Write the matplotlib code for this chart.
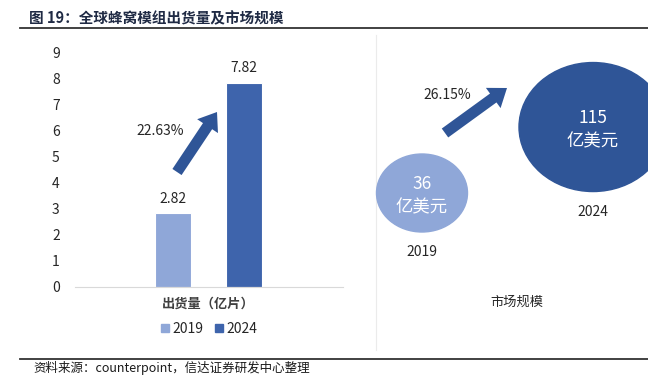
import matplotlib
matplotlib.use("Agg")
import matplotlib.pyplot as plt
from matplotlib.patches import Ellipse, FancyArrow
from matplotlib.lines import Line2D

plt.rcParams["font.family"] = ["Noto Sans CJK SC", "DejaVu Sans"]

# --- Data ---
years = ["2019", "2024"]
shipments = [2.82, 7.82]          # 亿片
shipment_cagr = "22.63%"
market_size = [36, 115]           # 亿美元
market_cagr = "26.15%"
y_ticks = list(range(0, 10))

title = "图 19：全球蜂窝模组出货量及市场规模"
source = "资料来源：counterpoint，信达证券研发中心整理"

light_blue = "#8FA7D8"
mid_blue = "#3E64AC"
dark_blue = "#2F5597"
text_gray = "#404040"

W, H = 648, 379
fig = plt.figure(figsize=(W / 100, H / 100), dpi=100)


def fbox(x0, y0, x1, y1):
    # pixel box (top-left origin) -> figure fraction rect
    return [x0 / W, 1 - y1 / H, (x1 - x0) / W, (y1 - y0) / H]


# --- Left: shipment bars ---
ax1 = fig.add_axes(fbox(75, 52, 343, 287))
bar_x = [0, 1]
ax1.bar(bar_x, shipments, width=0.51, color=[light_blue, mid_blue],
        edgecolor="white", linewidth=0.8)
for bx, v in zip(bar_x, shipments):
    ax1.text(bx, v + 0.3, f"{v:.2f}", ha="center", va="bottom",
             fontsize=10, color="#262626")
ax1.set_ylim(0, 9)
ax1.set_xlim(-1.38, 2.39)
ax1.set_yticks(y_ticks)
ax1.tick_params(axis="y", length=0, pad=11, labelsize=10, labelcolor="#262626")
ax1.set_xticks([0.5])
ax1.set_xticklabels(["出货量（亿片）"], fontsize=9.5, fontweight="bold", color=text_gray)
ax1.tick_params(axis="x", length=0, pad=7)
for s in ["top", "right", "left"]:
    ax1.spines[s].set_visible(False)
ax1.spines["bottom"].set_color("#D9D9D9")

handles = [Line2D([], [], marker="s", linestyle="none", markersize=5.5,
                  color=c, label=y) for c, y in zip([light_blue, mid_blue], years)]
ax1.legend(handles=handles, loc="upper center", bbox_to_anchor=(0.5, -0.095),
           ncol=2, frameon=False, fontsize=10, handlelength=0.6,
           handletextpad=0.25, columnspacing=0.8, labelcolor="#262626")

# --- Right: market size bubbles ---
ax2 = fig.add_axes(fbox(377, 35, 648, 350))
px_x, px_y = 171.0, 0.835        # pixels per data unit
ax2.set_xlim(-45 / px_x, 1 + 55 / px_x)
ax2.set_ylim(market_size[0] - 157 / px_y, market_size[0] + 158 / px_y)
ax2.axis("off")
bubble_px = [(91, 78), (148, 129)]
bubble_col = [light_blue, dark_blue]
for i, (v, y) in enumerate(zip(market_size, years)):
    w, h = bubble_px[i]
    ax2.add_patch(Ellipse((i, v), w / px_x, h / px_y, color=bubble_col[i],
                          clip_on=False))
    ax2.text(i, v + 9 / px_y, str(v), ha="center", va="center",
             color="white", fontsize=12.5)
    ax2.text(i, v - 14 / px_y, "亿美元", ha="center", va="center",
             color="white", fontsize=12.5)
    ax2.text(i, v - (h / 2 + 20) / px_y, y, ha="center", va="center",
             fontsize=10, color="#262626")

# --- Overlay: header, arrows, notes ---
ov = fig.add_axes([0, 0, 1, 1], zorder=-1)
ov.set_xlim(0, W)
ov.set_ylim(H, 0)
ov.axis("off")
ov2 = fig.add_axes([0, 0, 1, 1], zorder=5)
ov2.set_xlim(0, W)
ov2.set_ylim(H, 0)
ov2.axis("off")

ov.text(29, 18, title, fontsize=10.5, fontweight="bold", color="#1F2A44",
        va="center", ha="left")
ov.plot([20, W], [28, 28], color="#333333", lw=1.3)
ov.plot([20, W], [359, 359], color="#333333", lw=1.3)
ov.plot([376, 376], [35, 350], color="#EBEBEB", lw=0.8)
ov.text(33, 368, source, fontsize=9, style="italic", color="#1a1a1a",
        va="center", ha="left")

for (x0, y0, x1, y1) in [(177, 172, 217, 112), (445, 133, 507, 88)]:
    ov2.add_patch(FancyArrow(x0, y0, x1 - x0, y1 - y0, width=11,
                             head_width=25, head_length=17,
                             length_includes_head=True, color=dark_blue, lw=0))
ov2.text(160, 131, shipment_cagr, fontsize=10, color="#262626",
         ha="center", va="center")
ov2.text(447, 95, market_cagr, fontsize=10, color="#262626",
         ha="center", va="center")
ov2.text(517, 302, "市场规模", fontsize=9.5, color="#262626",
         ha="center", va="center")

fig.savefig("out.png", dpi=100)
